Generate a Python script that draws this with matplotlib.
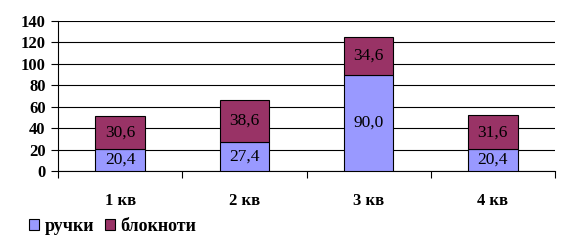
import numpy as np
import matplotlib.pyplot as plt

quarters = ['1 кв', '2 кв', '3 кв', '4 кв']
pens = [20.4, 27.4, 90.0, 20.4]
notebooks = [30.6, 38.6, 34.6, 31.6]
series_names = ['ручки', 'блокноти']

plt.rcParams['font.family'] = ['Liberation Serif', 'DejaVu Serif']

fig = plt.figure(figsize=(5.7, 2.44), dpi=100)
ax = fig.add_axes([58 / 570, 1 - 171 / 244, 497 / 570, 150 / 244])

x = np.arange(len(quarters))
b1 = ax.bar(x, pens, 0.4, color='#9999ff', edgecolor='black', linewidth=0.8,
            label=series_names[0], zorder=3)
b2 = ax.bar(x, notebooks, 0.4, bottom=pens, color='#993366', edgecolor='black',
            linewidth=0.8, label=series_names[1], zorder=3)

for bars in (b1, b2):
    ax.bar_label(bars, labels=[f'{b.get_height():.1f}'.replace('.', ',') for b in bars],
                 label_type='center', fontsize=12.5, color='black')

ax.set_xlim(-0.5, 3.5)
ax.set_ylim(0, 140)
ax.set_yticks(range(0, 141, 20))
ax.yaxis.grid(True, color='black', linewidth=0.8, zorder=0)
ax.set_axisbelow(True)

ax.set_xticks(x)
ax.set_xticklabels(quarters, fontweight='bold', fontsize=12)
ax.set_xticks(np.arange(-0.5, 4.0, 1.0), minor=True)
ax.tick_params(axis='x', which='major', length=0, pad=16)
ax.tick_params(axis='x', which='minor', length=5, width=0.8, direction='out')
ax.tick_params(axis='y', length=5, width=0.8, direction='out', labelsize=12, pad=4)
for lab in ax.get_yticklabels():
    lab.set_fontweight('bold')

for s in ['top', 'right']:
    ax.spines[s].set_visible(False)
for s in ['left', 'bottom']:
    ax.spines[s].set_linewidth(0.8)

fig.legend(loc='center left', bbox_to_anchor=(29 / 570, 1 - 226.5 / 244), ncol=2,
           frameon=False, prop={'weight': 'bold', 'size': 13},
           handlelength=0.55, handleheight=0.55, handletextpad=0.3,
           columnspacing=0.6, borderpad=0, borderaxespad=0)

fig.savefig('out.png', dpi=100)
